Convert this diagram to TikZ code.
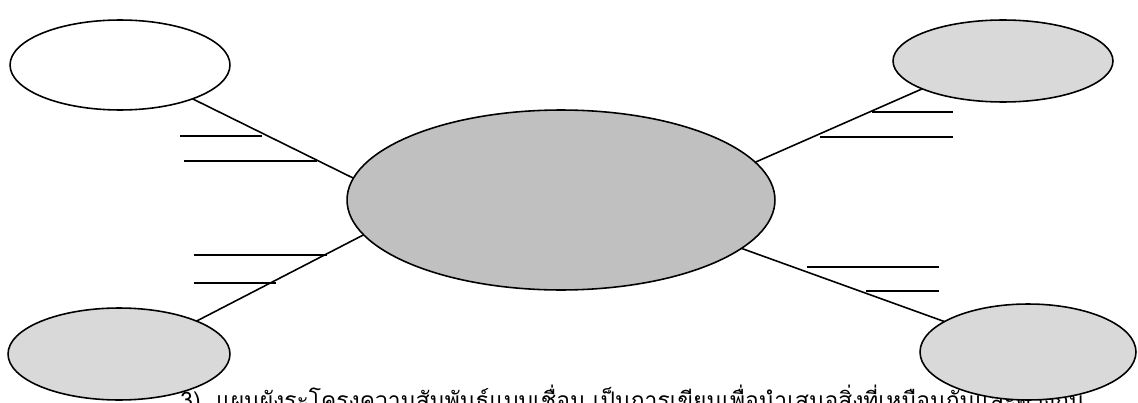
\documentclass[tikz,border=0pt]{standalone}
\usepackage{fontspec}
\newfontfamily\thaifont[Script=Thai]{Loma}
\usetikzlibrary{shapes.geometric}

\definecolor{bubblegray}{HTML}{D9D9D9}
\definecolor{centergray}{HTML}{C0C0C0}

\begin{document}
\begin{tikzpicture}[
    x=0.02cm, y=-0.02cm,
    bubble/.style={ellipse, draw=black, line width=0.9pt, inner sep=0pt, outer sep=0pt},
    spoke/.style={draw=black, line width=0.9pt},
    blank/.style={draw=black, line width=1pt},
    caption/.style={font=\thaifont\fontsize{13}{16}\selectfont, anchor=base west, inner sep=0pt}
]
\useasboundingbox (0,0) rectangle (1138,402);

% Caption (partly hidden under the bubbles)
\node[caption] (note) at (180,408) {3)\ \ แผนผังระโครงความสัมพันธ์แบบเชื่อม เป็นการเขียนเพื่อนำเสนอสิ่งที่เหมือนกันและต่างกัน};

% Centre and the four outer bubbles
\node[bubble, fill=centergray, minimum width=8.56cm, minimum height=3.6cm] (main) at (561,200) {};
\node[bubble, fill=white, minimum width=4.4cm, minimum height=1.8cm] (topleft) at (120,65) {};
\node[bubble, fill=bubblegray, minimum width=4.4cm, minimum height=1.64cm] (topright) at (1003,61) {};
\node[bubble, fill=bubblegray, minimum width=4.44cm, minimum height=1.84cm] (botleft) at (119,354) {};
\node[bubble, fill=bubblegray, minimum width=4.32cm, minimum height=1.92cm] (botright) at (1028,352) {};

% Spokes
\draw[spoke] (topleft.335) -- (main.174);
\draw[spoke] (botleft.23) -- (main.190.5);
\draw[spoke] (topright.199) -- (main.11.4);
\draw[spoke] (botright.160) -- (main.345.5);

% Lines to write on
\draw[blank] (180,136) -- (262,136);
\draw[blank] (184,161) -- (317,161);
\draw[blank] (194,255) -- (327,255);
\draw[blank] (194,283) -- (276,283);
\draw[blank] (872,112) -- (953,112);
\draw[blank] (820,137) -- (953,137);
\draw[blank] (807,267) -- (939,267);
\draw[blank] (866,291) -- (939,291);

\end{tikzpicture}
\end{document}
